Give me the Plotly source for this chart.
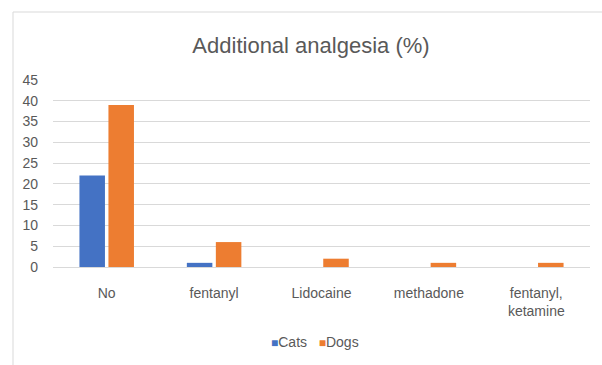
import plotly.graph_objects as go

categories = ["No", "fentanyl", "Lidocaine", "methadone", "fentanyl,<br>ketamine"]
cats = [22, 1, 0, 0, 0]
dogs = [39, 6, 2, 1, 1]
y_ticks = [0, 5, 10, 15, 20, 25, 30, 35, 40, 45]

W, H = 602, 365
ml, mr, mt, mb = 53, 12, 80, 98
pw = W - ml - mr
ph = H - mt - mb

font = "Liberation Sans, Arial, sans-serif"
grey = "#595959"
blue = "#4472C4"
orange = "#ED7D31"

fig = go.Figure()
fig.add_trace(go.Bar(name="Cats", x=categories, y=cats, marker=dict(color=blue, line=dict(width=0))))
fig.add_trace(go.Bar(name="Dogs", x=categories, y=dogs, marker=dict(color=orange, line=dict(width=0))))

fig.update_layout(
    width=W, height=H,
    margin=dict(l=ml, r=mr, t=mt, b=mb),
    paper_bgcolor="white", plot_bgcolor="white",
    barmode="group", bargap=0.46, bargroupgap=0.12,
    title=dict(text="Additional analgesia (%)", x=311 / W, xanchor="center",
               y=1 - 45 / H, yanchor="middle",
               font=dict(family=font, size=22, color=grey)),
    font=dict(family=font, size=14, color=grey),
    showlegend=False,
)
fig.update_yaxes(range=[0, 45], tickvals=y_ticks, showgrid=True, gridcolor="#d9d9d9",
                 gridwidth=1, zeroline=False, showline=False, ticks="",
                 ticklabelstandoff=14, tickfont=dict(size=14, color=grey))
fig.update_xaxes(showline=True, linecolor="#d9d9d9", linewidth=1, ticks="",
                 tickfont=dict(size=14, color=grey), ticklabelstandoff=13)

# legend drawn as text
fig.add_annotation(
    xref="paper", yref="paper", x=(315 - ml) / pw, y=(H - mb - 342) / ph,
    xanchor="center", yanchor="middle", showarrow=False,
    text=(f"<span style='color:{blue};font-size:12px'>■</span>Cats&nbsp;&nbsp;&nbsp;"
          f"<span style='color:{orange};font-size:12px'>■</span>Dogs"),
    font=dict(family=font, size=14, color=grey),
)

# chart border
x0 = (13 - ml) / pw
y1 = (H - mb - 12) / ph
fig.add_shape(type="rect", xref="paper", yref="paper", x0=x0, x1=(W + 5 - ml) / pw,
              y0=-(mb + 5) / ph, y1=y1, line=dict(color="#d9d9d9", width=1),
              fillcolor="rgba(0,0,0,0)", layer="below")

fig.write_html("out.html")
